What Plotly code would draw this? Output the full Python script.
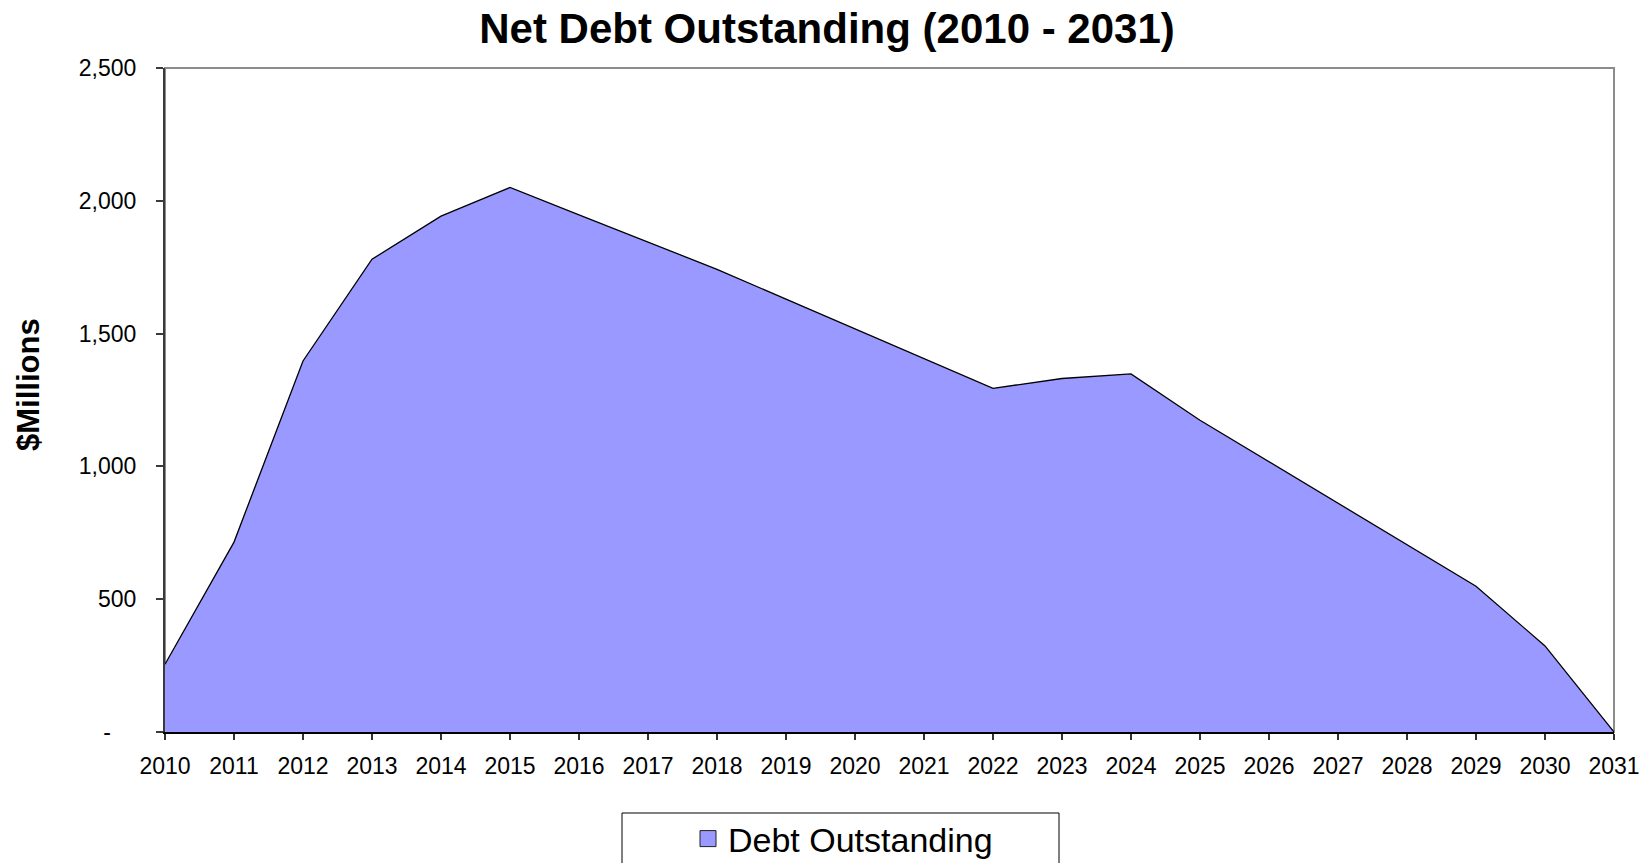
import plotly.graph_objects as go

years = list(range(2010, 2032))
debt_outstanding = [255, 715, 1397, 1780, 1942, 2050, 1947, 1845, 1742, 1630, 1518,
                    1406, 1294, 1331, 1348, 1174, 1018, 862, 705, 549, 324, 0]

y_tickvals = [0, 500, 1000, 1500, 2000, 2500]
y_ticktext = ["-\u00a0\u00a0\u00a0\u00a0", "500", "1,000", "1,500", "2,000", "2,500"]
x_tickvals = years
x_ticktext = [str(y) for y in years]

series_name = "Debt Outstanding"
title_text = "<b>Net Debt Outstanding (2010 - 2031)</b>"
y_title = "<b>$Millions</b>"

FILL = "#9999FF"
FONT = "Liberation Sans, Arial, sans-serif"

W, H = 1650, 863
L, R, T, B = 165, 36, 68, 131
PW, PH = W - L - R, H - T - B


def px(xp):
    return (xp - L) / PW


def py(yp):
    return (H - B - yp) / PH


fig = go.Figure()
fig.add_trace(go.Scatter(
    x=years, y=debt_outstanding, mode="lines", fill="tozeroy",
    fillcolor=FILL, line=dict(color="black", width=1.3),
    showlegend=False, hoverinfo="skip",
))
fig.add_trace(go.Scatter(
    x=[None], y=[None], mode="markers", name=series_name,
    marker=dict(symbol="square", size=21, color=FILL,
                line=dict(color="#222222", width=1)),
    showlegend=True,
))

fig.update_layout(
    width=W, height=H,
    margin=dict(l=L, r=R, t=T, b=B, autoexpand=False),
    paper_bgcolor="white", plot_bgcolor="white",
    font=dict(family=FONT, color="black", size=23),
    title=dict(text=title_text, x=827 / W, xanchor="center",
               y=1 - 28 / H, yanchor="middle", yref="container",
               font=dict(size=42, family=FONT, color="black")),
    showlegend=True,
    legend=dict(orientation="h", x=px(843), xanchor="center",
                y=py(839), yanchor="middle",
                font=dict(size=34, family=FONT, color="black"),
                bgcolor="rgba(0,0,0,0)", borderwidth=0),
    shapes=[
        dict(type="rect", xref="paper", yref="paper", x0=0, x1=1, y0=0, y1=1,
             line=dict(color="#8c8c8c", width=2), layer="below"),
        dict(type="rect", xref="paper", yref="paper",
             x0=px(622), x1=px(1059), y0=py(813), y1=py(900),
             line=dict(color="black", width=1), fillcolor="rgba(0,0,0,0)",
             layer="below"),
    ],
    annotations=[
        dict(text=y_title, xref="paper", yref="paper", x=px(28), y=py(385),
             xanchor="center", yanchor="middle", textangle=-90, showarrow=False,
             font=dict(size=31, family=FONT, color="black")),
    ],
)

fig.update_xaxes(
    range=[2010, 2031], tickvals=x_tickvals, ticktext=x_ticktext,
    showgrid=False, zeroline=False, showline=True, linecolor="black", linewidth=2,
    ticks="outside", ticklen=6, tickcolor="#333333", tickwidth=1.5,
    tickfont=dict(size=23, family=FONT, color="black"), ticklabelstandoff=6,
    fixedrange=True,
)
fig.update_yaxes(
    range=[0, 2500], tickvals=y_tickvals, ticktext=y_ticktext,
    showgrid=False, zeroline=False, showline=True, linecolor="#3a3a3a", linewidth=2,
    ticks="outside", ticklen=7, tickcolor="#3a3a3a", tickwidth=1.5,
    tickfont=dict(size=23, family=FONT, color="black"), ticklabelstandoff=15,
    fixedrange=True,
)

fig.write_html("out.html", config={"displayModeBar": False})
